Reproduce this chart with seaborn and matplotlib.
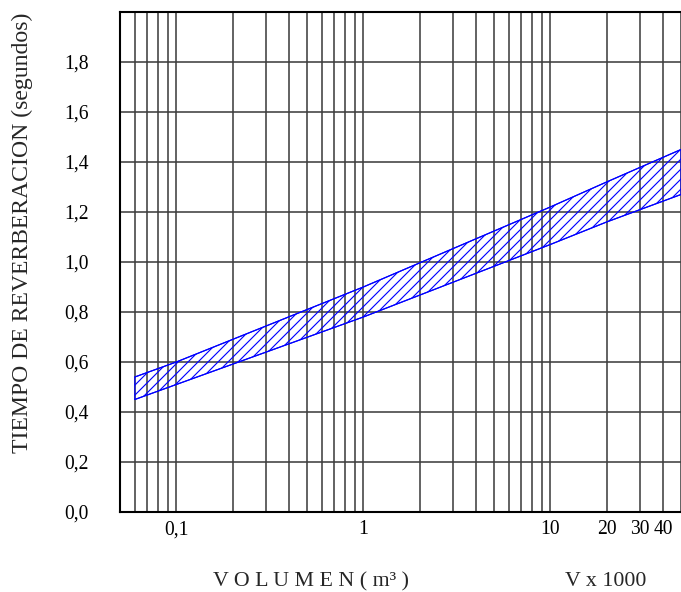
import numpy as np
import pandas as pd
import matplotlib
matplotlib.use("Agg")
import matplotlib.pyplot as plt
import seaborn as sns
from matplotlib.ticker import FixedLocator, LogLocator, NullFormatter

# Volume in thousands of m3 (V x 1000) and the recommended reverberation-time band (s)
volume = [0.06, 0.1, 1, 10, 20, 50]
t_upper = [0.54, 0.60, 0.90, 1.22, 1.32, 1.45]
t_lower = [0.45, 0.51, 0.78, 1.07, 1.16, 1.27]

x_ticks = [0.1, 1, 10, 20, 30, 40]
x_tick_labels = ["0,1", "1", "10", "20", "30", "40"]
y_ticks = [0.0, 0.2, 0.4, 0.6, 0.8, 1.0, 1.2, 1.4, 1.6, 1.8, 2.0]
y_tick_labels = ["0,0", "0,2", "0,4", "0,6", "0,8", "1,0", "1,2", "1,4", "1,6", "1,8", ""]

DPI = 150
W, H = 681, 592
BLUE = "#0000ff"
GRID = "#3c3c3c"

sns.set_theme(style="white")
plt.rcParams["font.family"] = ["Liberation Serif", "DejaVu Serif"]
plt.rcParams["hatch.linewidth"] = 0.55
plt.rcParams["hatch.color"] = BLUE

fig = plt.figure(figsize=(W / DPI, H / DPI), dpi=DPI)
ax = fig.add_axes([120 / W, 80 / H, 561 / W, 500 / H])

df = pd.DataFrame({"volume": volume, "upper": t_upper, "lower": t_lower})

ax.set_xscale("log")
ax.fill_between(df["volume"], df["lower"], df["upper"], facecolor="none",
                edgecolor=BLUE, hatch="/////", linewidth=0.55, zorder=3)
sns.lineplot(data=df, x="volume", y="upper", color=BLUE, lw=0.55, ax=ax, zorder=3)
sns.lineplot(data=df, x="volume", y="lower", color=BLUE, lw=0.55, ax=ax, zorder=3)

ax.set_xlim(0.05, 50)
ax.set_ylim(0, 2.0)

ax.xaxis.set_major_locator(FixedLocator(x_ticks))
ax.set_xticklabels(x_tick_labels)
ax.xaxis.set_minor_locator(LogLocator(base=10, subs=np.arange(2, 10)))
ax.xaxis.set_minor_formatter(NullFormatter())
ax.set_yticks(y_ticks)
ax.set_yticklabels(y_tick_labels)

ax.set_axisbelow(True)
ax.grid(which="both", axis="x", color=GRID, lw=0.75)
ax.grid(which="major", axis="y", color=GRID, lw=0.75)

ax.tick_params(axis="both", which="both", length=0, labelsize=9.4, colors="black")
ax.tick_params(axis="x", pad=4)
ax.tick_params(axis="y", pad=15)

for side in ("left", "bottom", "top"):
    ax.spines[side].set_color("black")
    ax.spines[side].set_linewidth(1.0)
ax.spines["right"].set_visible(False)

ax.set_xlabel("")
ax.set_ylabel("")

fig.text(22 / W, 1 - 233 / H, "TIEMPO DE REVERBERACION (segundos)",
         rotation=90, ha="center", va="center", fontsize=11.4)
fig.text(311 / W, 1 - 582 / H, "V O L U M E N ( m³ )",
         ha="center", va="center", fontsize=10.5)
fig.text(606 / W, 1 - 582 / H, "V x 1000",
         ha="center", va="center", fontsize=10.5)

fig.savefig("out.png", dpi=DPI)
